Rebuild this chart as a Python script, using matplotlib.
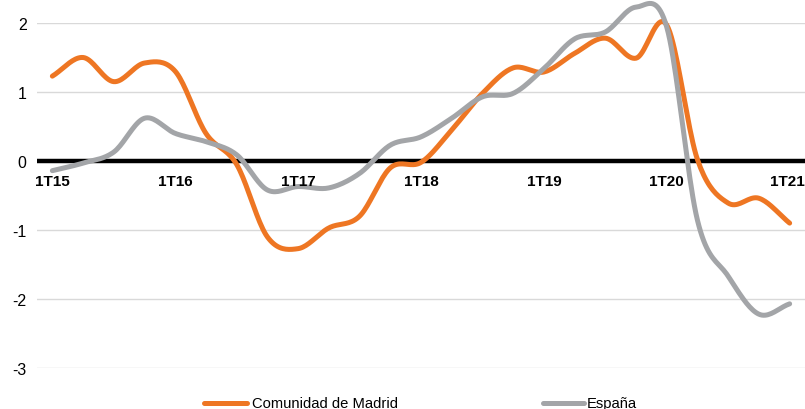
import numpy as np
import matplotlib
matplotlib.use("Agg")
import matplotlib.pyplot as plt
from matplotlib.lines import Line2D

# Datos trimestrales 1T15 -> 1T21
trimestres = ["1T15", "2T15", "3T15", "4T15", "1T16", "2T16", "3T16", "4T16",
              "1T17", "2T17", "3T17", "4T17", "1T18", "2T18", "3T18", "4T18",
              "1T19", "2T19", "3T19", "4T19", "1T20", "2T20", "3T20", "4T20", "1T21"]
madrid = [1.23, 1.50, 1.15, 1.42, 1.30, 0.40, -0.05, -1.10, -1.27, -0.97, -0.80, -0.10,
          -0.02, 0.45, 0.98, 1.35, 1.29, 1.56, 1.78, 1.49, 1.97, 0.02, -0.61, -0.54, -0.90]
espana = [-0.14, -0.03, 0.13, 0.62, 0.40, 0.28, 0.09, -0.42, -0.37, -0.39, -0.18, 0.23,
          0.35, 0.62, 0.93, 0.98, 1.34, 1.77, 1.87, 2.23, 1.94, -0.86, -1.67, -2.22, -2.07]
etiquetas = ["1T15", "1T16", "1T17", "1T18", "1T19", "1T20", "1T21"]

NARANJA = "#EE7623"
GRIS = "#A3A5A8"


def suavizar(y, n=20):
    """Curva Catmull-Rom que pasa por los puntos (como el 'suavizado' de Excel)."""
    y = np.asarray(y, dtype=float)
    p = np.concatenate([[2 * y[0] - y[1]], y, [2 * y[-1] - y[-2]]])
    xs, ys = [], []
    for i in range(len(y) - 1):
        p0, p1, p2, p3 = p[i], p[i + 1], p[i + 2], p[i + 3]
        t = np.linspace(0, 1, n, endpoint=False)
        yy = 0.5 * ((2 * p1) + (-p0 + p2) * t + (2 * p0 - 5 * p1 + 4 * p2 - p3) * t**2
                    + (-p0 + 3 * p1 - 3 * p2 + p3) * t**3)
        xs.append(i + t)
        ys.append(yy)
    xs.append([len(y) - 1])
    ys.append([y[-1]])
    return np.concatenate(xs), np.concatenate(ys)


plt.rcParams["font.family"] = ["Liberation Sans", "DejaVu Sans"]

fig = plt.figure(figsize=(8.05, 4.10), dpi=100)
ax = fig.add_axes([37 / 805, 1 - 369 / 410, 1 - 37 / 805, (369 - 24) / 410])

ax.set_xlim(-0.5, len(trimestres) - 0.5)
ax.set_ylim(-3, 2)
ax.set_yticks([-3, -2, -1, 0, 1, 2])
ax.set_yticklabels(["-3", "-2", "-1", "0", "1", "2"], fontsize=11.5)
ax.tick_params(axis="y", length=0, pad=7.5)
ax.set_xticks([])
for s in ax.spines.values():
    s.set_visible(False)
ax.grid(axis="y", color="#D9D9D9", linewidth=1.0)
ax.set_axisbelow(True)

xm, ym = suavizar(madrid)
xe, ye = suavizar(espana)
ax.plot(xm, ym, color=NARANJA, linewidth=3.6, solid_capstyle="round", zorder=3, clip_on=False)
ax.plot(xe, ye, color=GRIS, linewidth=3.6, solid_capstyle="round", zorder=4, clip_on=False)
ax.axhline(0, color="black", linewidth=3.2, zorder=2)

for lab in etiquetas:
    i = trimestres.index(lab)
    if i == len(trimestres) - 1:
        ax.text(1.0, -0.19, lab, ha="right", va="top", fontsize=11,
                fontweight="bold", zorder=5, transform=ax.get_yaxis_transform())
    else:
        ax.text(i, -0.19, lab, ha="center", va="top",
                fontsize=11, fontweight="bold", zorder=5)

# Leyenda manual abajo
yl = 1 - 404 / 410
fig.add_artist(Line2D([204 / 805, 247 / 805], [yl, yl], color=NARANJA, linewidth=3.6,
                      solid_capstyle="round", transform=fig.transFigure))
fig.text(252 / 805, yl, "Comunidad de Madrid", fontsize=10.6, va="center", ha="left")
fig.add_artist(Line2D([543 / 805, 584 / 805], [yl, yl], color=GRIS, linewidth=3.6,
                      solid_capstyle="round", transform=fig.transFigure))
fig.text(587 / 805, yl, "España", fontsize=10.6, va="center", ha="left")

fig.savefig("out.png", dpi=100, facecolor="white")
